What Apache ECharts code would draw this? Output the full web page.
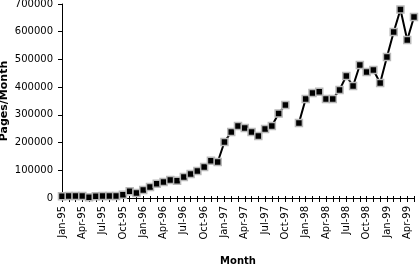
<!DOCTYPE html>
<html><head><meta charset="utf-8">
<script src="https://cdn.jsdelivr.net/npm/echarts@6/dist/echarts.min.js"></script>
<style>html,body{margin:0;padding:0;background:#fff}#c{width:420px;height:268px}</style>
</head><body><div id="c"></div>
<script>
const months = [
 'Jan-95','Feb-95','Mar-95','Apr-95','May-95','Jun-95','Jul-95','Aug-95','Sep-95','Oct-95','Nov-95','Dec-95',
 'Jan-96','Feb-96','Mar-96','Apr-96','May-96','Jun-96','Jul-96','Aug-96','Sep-96','Oct-96','Nov-96','Dec-96',
 'Jan-97','Feb-97','Mar-97','Apr-97','May-97','Jun-97','Jul-97','Aug-97','Sep-97','Oct-97','Nov-97','Dec-97',
 'Jan-98','Feb-98','Mar-98','Apr-98','May-98','Jun-98','Jul-98','Aug-98','Sep-98','Oct-98','Nov-98','Dec-98',
 'Jan-99','Feb-99','Mar-99','Apr-99','May-99'];
const pagesPerMonth = [
 6000, 7000, 7000, 7000, 3000, 6000, 7000, 7000, 7000, 12000, 24000, 18000,
 29000, 40000, 51000, 58000, 65000, 62000, 76000, 87000, 97000, 112000, 134000, 130000,
 202000, 238000, 260000, 253000, 238000, 224000, 249000, 260000, 305000, 336000, null, 271000,
 357000, 379000, 383000, 357000, 357000, 390000, 440000, 404000, 480000, 455000, 462000, 415000,
 509000, 599000, 680000, 570000, 653000];
const yTicks = [0, 100000, 200000, 300000, 400000, 500000, 600000, 700000];

const font = 'DejaVu Sans';
const chart = echarts.init(document.getElementById('c'));
chart.setOption({
  animation: false,
  backgroundColor: '#fff',
  grid: { left: 62, right: 6, top: 4, bottom: 70, containLabel: false, outerBoundsMode: 'none' },
  xAxis: [{
    type: 'category', data: months, boundaryGap: false,
    name: 'Month', nameLocation: 'middle', nameGap: 58, nameMoveOverlap: false,
    nameTextStyle: { fontFamily: font, fontWeight: 'bold', fontSize: 10, color: '#000' },
    axisLine: { lineStyle: { color: '#000', width: 1 } },
    axisTick: { show: true, interval: 0, length: 4, lineStyle: { color: '#000' } },
    axisLabel: { interval: 2, rotate: 90, margin: 8, fontFamily: font, fontSize: 10, color: '#000' },
    splitLine: { show: false }
  }, {
    type: 'category', data: months, boundaryGap: false, position: 'bottom', offset: 0,
    axisLine: { show: false },
    axisTick: { show: true, inside: true, interval: 0, length: 2, lineStyle: { color: '#000' } },
    axisLabel: { show: false }, splitLine: { show: false }
  }],
  yAxis: {
    type: 'value', min: yTicks[0], max: yTicks[yTicks.length - 1], interval: 100000,
    name: 'Pages/Month', nameLocation: 'middle', nameGap: 52, nameMoveOverlap: false,
    nameTextStyle: { fontFamily: font, fontWeight: 'bold', fontSize: 11, color: '#000' },
    axisLine: { show: true, lineStyle: { color: '#000', width: 1 } },
    axisTick: { show: true, length: 4, lineStyle: { color: '#000' } },
    axisLabel: { margin: 9, fontFamily: font, fontSize: 10, color: '#000',
      formatter: v => String(v) },
    splitLine: { show: false }
  },
  series: [{
    type: 'line', data: pagesPerMonth, connectNulls: false,
    symbol: 'rect', symbolSize: 7, showAllSymbol: true,
    lineStyle: { color: '#000', width: 2 },
    itemStyle: { color: '#000', borderColor: '#b8b8b8', borderWidth: 1.5 }
  }]
});
</script></body></html>
